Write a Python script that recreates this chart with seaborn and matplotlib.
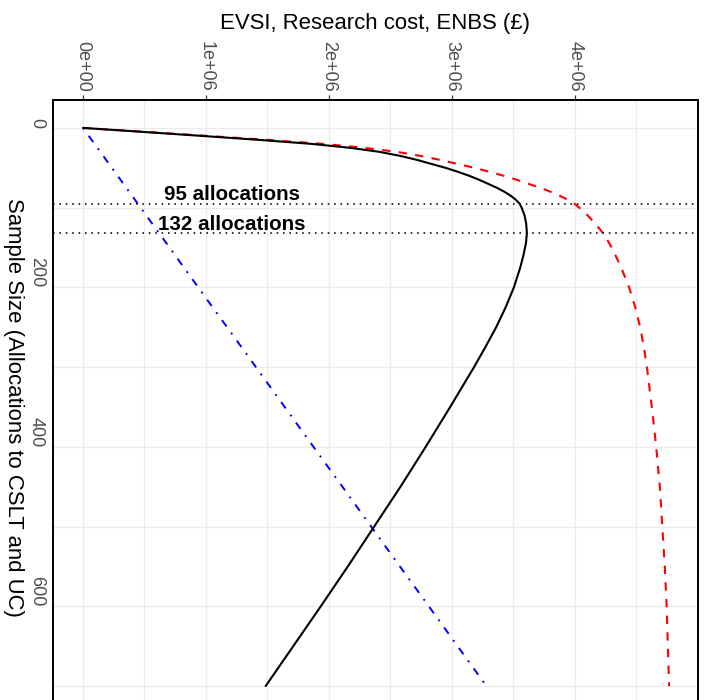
import matplotlib
matplotlib.use("Agg")
import matplotlib.pyplot as plt
import pandas as pd
import seaborn as sns

# ---- data (monetary values in £ millions) ----
sample_size = [0, 5, 10, 15, 20, 25, 30, 35, 40, 45, 50, 55, 60, 65, 70, 75, 80, 85,
               90, 95, 100, 110, 120, 132, 145, 160, 175, 200, 225, 250, 275, 300,
               350, 400, 450, 500, 550, 600, 650, 700]
evsi = [0.0, 0.51, 1.01, 1.50, 1.95, 2.29, 2.55, 2.74, 2.90, 3.04, 3.18, 3.305, 3.42,
        3.525, 3.62, 3.715, 3.80, 3.875, 3.94, 3.995, 4.035, 4.105, 4.165, 4.228, 4.28,
        4.33, 4.375, 4.44, 4.49, 4.53, 4.56, 4.585, 4.625, 4.66, 4.69, 4.71, 4.73,
        4.745, 4.755, 4.765]
research_cost = [0.0, 0.023, 0.047, 0.070, 0.094, 0.117, 0.141, 0.164, 0.187, 0.211,
                 0.234, 0.258, 0.281, 0.305, 0.328, 0.352, 0.375, 0.398, 0.422, 0.445,
                 0.469, 0.516, 0.562, 0.619, 0.680, 0.750, 0.820, 0.937, 1.054, 1.172,
                 1.289, 1.406, 1.640, 1.874, 2.109, 2.343, 2.577, 2.812, 3.046, 3.280]
enbs = [0.0, 0.487, 0.963, 1.430, 1.856, 2.173, 2.409, 2.576, 2.713, 2.829, 2.946,
        3.047, 3.139, 3.220, 3.292, 3.364, 3.425, 3.477, 3.518, 3.550, 3.566, 3.590,
        3.603, 3.609, 3.601, 3.580, 3.555, 3.503, 3.436, 3.359, 3.271, 3.179, 2.985,
        2.786, 2.581, 2.367, 2.153, 1.933, 1.709, 1.485]
marked_n = [95, 132]
marked_labels = ["95 allocations", "132 allocations"]
label_x = 1.21  # £ millions
x_ticks = [0, 1e6, 2e6, 3e6, 4e6]
x_tick_labels = ["0e+00", "1e+06", "2e+06", "3e+06", "4e+06"]
x_minor = [0.5e6, 1.5e6, 2.5e6, 3.5e6, 4.5e6]
y_ticks = [0, 200, 400, 600]
y_minor = [100, 300, 500, 700]

df = pd.DataFrame({
    "n": sample_size * 3,
    "value": [v * 1e6 for v in evsi + research_cost + enbs],
    "series": ["EVSI"] * len(sample_size) + ["Cost"] * len(sample_size)
              + ["ENBS"] * len(sample_size),
})

sns.set_theme(style="white")
plt.rcParams["font.family"] = ["Liberation Sans", "DejaVu Sans"]

fig = plt.figure(figsize=(7.04, 7.0), dpi=100)
fig.patch.set_facecolor("white")
ax = fig.add_axes([53 / 704, (700 - 714) / 700, 645 / 704, 614 / 700])

# curves
sns.lineplot(data=df[df.series == "EVSI"], x="value", y="n", orient="y",
             color="#FF0000", linewidth=1.5, linestyle=(0, (4, 4)),
             errorbar=None, legend=False, ax=ax)
sns.lineplot(data=df[df.series == "Cost"], x="value", y="n", orient="y",
             color="#0000FF", linewidth=1.4, linestyle=(0, (1, 4, 4, 4)),
             errorbar=None, legend=False, ax=ax)
sns.lineplot(data=df[df.series == "ENBS"], x="value", y="n", orient="y",
             color="black", linewidth=1.5, errorbar=None, legend=False, ax=ax)

for n, lab in zip(marked_n, marked_labels):
    ax.axhline(n, color="black", linewidth=1.15, linestyle=(0, (1, 3)))
    ax.text(label_x * 1e6, n - 4, lab, ha="center", va="baseline",
            fontsize=14.8, fontweight="bold", color="black")

# scales
ax.set_xlim(-0.2439e6, 5.0e6)
ax.set_ylim(735, -35)
ax.xaxis.tick_top()
ax.set_xticks(x_ticks)
ax.set_xticklabels(x_tick_labels)
ax.set_xticks(x_minor, minor=True)
ax.set_yticks(y_ticks)
ax.set_yticks(y_minor, minor=True)

ax.grid(which="major", color="#EBEBEB", linewidth=1.0)
ax.grid(which="minor", color="#EBEBEB", linewidth=0.8)
ax.set_axisbelow(True)

for side in ["left", "top", "right", "bottom"]:
    ax.spines[side].set_color("black")
    ax.spines[side].set_linewidth(1.4)

ax.tick_params(which="major", axis="both", length=3.8, width=0.9, color="#333333",
               labelsize=13, labelcolor="#4D4D4D", pad=2.0)
ax.tick_params(axis="x", top=True, bottom=False, labeltop=True, labelbottom=False)
ax.tick_params(which="minor", length=0)

for t in ax.get_xticklabels():
    t.set_rotation(270)
    t.set_ha("center")
    t.set_va("bottom")
for t in ax.get_yticklabels():
    t.set_rotation(270)
    t.set_ha("right")
    t.set_va("bottom")

ax.set_xlabel("EVSI, Research cost, ENBS (£)", fontsize=15.9, color="black")
ax.xaxis.set_label_position("top")
ax.xaxis.label.set_va("center")
ax.xaxis.set_label_coords(0.5, (714 - 24) / 614)

ax.set_ylabel("Sample Size (Allocations to CSLT and UC)", fontsize=15.9,
              color="black", rotation=270)
ax.yaxis.label.set_va("center")
ax.yaxis.label.set_ha("center")
ax.yaxis.set_label_coords((13 - 53) / 645, (714 - 407) / 614)

fig.savefig("out.png", dpi=100, facecolor="white")
